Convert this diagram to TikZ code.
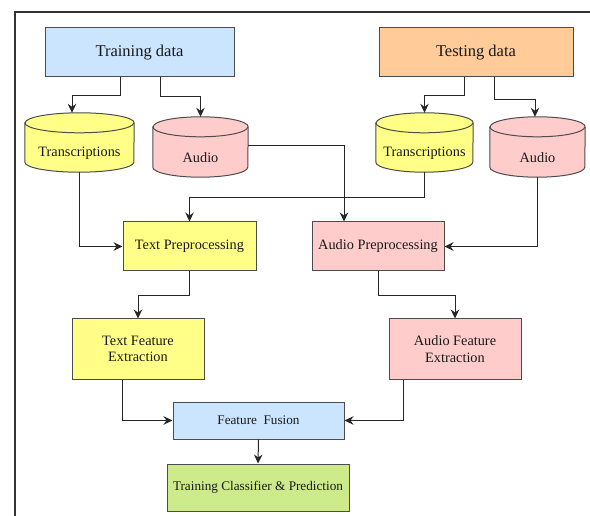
\documentclass[tikz,border=0pt]{standalone}
\usepackage{fontspec}
\setmainfont{Liberation Serif}
\usetikzlibrary{arrows.meta}
\definecolor{cblue}{HTML}{CCE5FF}
\definecolor{corange}{HTML}{FFCC99}
\definecolor{cyel}{HTML}{FFFF88}
\definecolor{cpink}{HTML}{FFCCCC}
\definecolor{cgreen}{HTML}{CDEB8B}
\newcommand{\cylbody}[4]{%
  \path[draw=black!70, line width=1pt, fill=#4]
    ([yshift=-#3]#1.north west) -- ([yshift=#3]#1.south west)
    arc[start angle=180, end angle=360, x radius=#2, y radius=#3]
    -- ([yshift=-#3]#1.north east)
    arc[start angle=0, end angle=180, x radius=#2, y radius=#3] -- cycle;
  \draw[black!70, line width=1pt] ([yshift=-#3]#1.north west)
    arc[start angle=180, end angle=360, x radius=#2, y radius=#3];
}
\begin{document}
\begin{tikzpicture}[x=1pt,y=-1pt,
  box/.style={draw=black!70, line width=1pt, inner sep=0pt, align=center,
    font=\fontsize{14.3}{16.5}\selectfont, text=black!90},
  cylnode/.style={inner sep=0pt},
  cyltxt/.style={inner sep=0pt, font=\fontsize{14.3}{16.5}\selectfont, text=black!90},
  arr/.style={draw=black!85, line width=1pt, -{Stealth[length=9pt,width=8.5pt,inset=3pt]}}]
\useasboundingbox (0,0) rectangle (590,516);
\draw[black!80, line width=1.1pt] (590,12) -- (15,12) -- (15,516);

% top boxes
\node[box, fill=cblue, minimum width=189pt, minimum height=49pt,
  font=\fontsize{16.5}{19}\selectfont] (train) at (139.5,52.5) {Training data};
\node[box, fill=corange, minimum width=194pt, minimum height=49pt,
  font=\fontsize{16.5}{19}\selectfont] (test) at (476,52.5) {Testing data};

% cylinders
\node[cylnode, minimum width=109pt, minimum height=59pt] (trL) at (79.5,142.5) {};
\cylbody{trL}{54.5pt}{10pt}{cyel}
\node[cyltxt] (trLt) at ([yshift=-11pt]trL.center) {Transcriptions};

\node[cylnode, minimum width=95pt, minimum height=60pt] (auL) at (200.5,147) {};
\cylbody{auL}{47.5pt}{10pt}{cpink}
\node[cyltxt] (auLt) at ([yshift=-11pt]auL.center) {Audio};

\node[cylnode, minimum width=97pt, minimum height=59pt] (trR) at (424.5,142.5) {};
\cylbody{trR}{48.5pt}{10pt}{cyel}
\node[cyltxt] (trRt) at ([yshift=-11pt]trR.center) {Transcriptions};

\node[cylnode, minimum width=95pt, minimum height=60pt] (auR) at (537.5,147) {};
\cylbody{auR}{47.5pt}{10pt}{cpink}
\node[cyltxt] (auRt) at ([yshift=-11pt]auR.center) {Audio};

% processing
\node[box, fill=cyel, minimum width=133pt, minimum height=49pt] (tp) at (189.5,246.5) {Text Preprocessing};
\node[box, fill=cpink, minimum width=132pt, minimum height=49pt] (ap) at (378,246.5) {Audio Preprocessing};
\node[box, fill=cyel, minimum width=132pt, minimum height=60pt] (tfe) at (138,349) {Text Feature\\Extraction};
\node[box, fill=cpink, minimum width=132pt, minimum height=60pt] (afe) at (455,349) {Audio Feature\\Extraction};
\node[box, fill=cblue, minimum width=171pt, minimum height=37pt,
  font=\fontsize{13.2}{15}\selectfont] (ff) at (258.5,420.5) {Feature\ \ Fusion};
\node[box, fill=cgreen, minimum width=182pt, minimum height=47pt,
  font=\fontsize{13.2}{15}\selectfont] (tcp) at (258,487.5) {Training Classifier \& Prediction};

% connectors
\draw[arr] ([xshift=-19.5pt]train.south) -- ++(0,18) -| ([xshift=-7.5pt]trL.north);
\draw[arr] ([xshift=20.5pt]train.south) -- ++(0,19) -| (auL.north);
\draw[arr] ([xshift=-12pt]test.south) -- ++(0,18) -| (trR.north);
\draw[arr] ([xshift=18pt]test.south) -- ++(0,22) -| ([xshift=-2.5pt]auR.north);
\draw[arr] (trL.south) |- (tp.west);
\draw[arr] ([yshift=1pt]auL.east) -| ([xshift=-34pt]ap.north);
\draw[arr] (trR.south) -- ++(0,25) -| (tp.north);
\draw[arr] (auR.south) |- (ap.east);
\draw[arr] (tp.south) -- ++(0,24) -| (tfe.north);
\draw[arr] (ap.south) -- ++(0,24) -| (afe.north);
\draw[arr] ([xshift=-16pt]tfe.south) |- (ff.west);
\draw[arr] ([xshift=-52pt]afe.south) |- (ff.east);
\draw[arr] (ff.south) -- (tcp.north);
\end{tikzpicture}
\end{document}
